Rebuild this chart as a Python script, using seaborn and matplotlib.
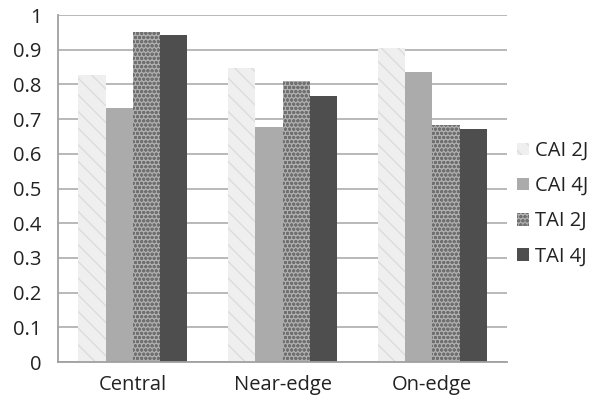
import matplotlib
matplotlib.use("Agg")
import matplotlib.pyplot as plt
import seaborn as sns
import pandas as pd
from matplotlib.patches import Patch

categories = ["Central", "Near-edge", "On-edge"]
series = ["CAI 2J", "CAI 4J", "TAI 2J", "TAI 4J"]
cai_2j = [0.827, 0.847, 0.905]
cai_4j = [0.732, 0.677, 0.836]
tai_2j = [0.951, 0.810, 0.683]
tai_4j = [0.942, 0.767, 0.671]
y_ticks = [0, 0.1, 0.2, 0.3, 0.4, 0.5, 0.6, 0.7, 0.8, 0.9, 1]
y_tick_labels = ["0", "0.1", "0.2", "0.3", "0.4", "0.5", "0.6", "0.7", "0.8", "0.9", "1"]

values = [cai_2j, cai_4j, tai_2j, tai_4j]
df = pd.DataFrame(
    [(c, s, v[i]) for s, v in zip(series, values) for i, c in enumerate(categories)],
    columns=["category", "series", "value"],
)

sns.set_theme(style="white")
plt.rcParams["font.family"] = ["Open Sans", "DejaVu Sans"]
plt.rcParams["hatch.linewidth"] = 1.0

# fill styles per series: face colour, hatch pattern, hatch colour
styles = {
    "CAI 2J": ("#efefef", "\\\\", "#dcdcdc"),
    "CAI 4J": ("#ababab", "", "#ababab"),
    "TAI 2J": ("#b0b0b0", "oooo", "#707070"),
    "TAI 4J": ("#4e4e4e", "", "#4e4e4e"),
}

fig = plt.figure(figsize=(5.98, 3.97), dpi=100)
ax = fig.add_axes([0.097, 0.088, 0.751, 0.874])

sns.barplot(data=df, x="category", y="value", hue="series", order=categories,
            hue_order=series, width=0.73, gap=0, ax=ax, legend=False,
            palette=[styles[s][0] for s in series], saturation=1)

for name, cont in zip(series, ax.containers):
    fc, hatch, hc = styles[name]
    for bar in cont:
        bar.set_facecolor(fc)
        bar.set_hatch(hatch)
        bar.set_edgecolor(hc)
        bar.set_linewidth(0)

ax.set_ylim(0, 1)
ax.set_xlim(-0.5, 2.5)
ax.set_yticks(y_ticks)
ax.set_yticklabels(y_tick_labels)
ax.yaxis.grid(True, color="#b3b3b3", linewidth=1.3)
ax.set_axisbelow(True)
ax.set_xlabel("")
ax.set_ylabel("")

ax.set_xticks([0, 1, 2])
ax.set_xticklabels(categories)
ax.set_xticks([-0.5, 0.5, 1.5, 2.5], minor=True)
ax.tick_params(axis="x", which="major", length=0, labelsize=14.5, pad=9, colors="#222222")
ax.tick_params(axis="x", which="minor", length=6, width=1.2, color="#a0a0a0", direction="out")
ax.tick_params(axis="y", length=7, width=1.2, color="#a0a0a0", direction="out",
               labelsize=14.5, pad=5, labelcolor="#222222")

for side in ["top", "right"]:
    ax.spines[side].set_visible(False)
for side in ["left", "bottom"]:
    ax.spines[side].set_color("#a0a0a0")
    ax.spines[side].set_linewidth(1.3)

handles = []
for s in series:
    fc, hatch, hc = styles[s]
    handles.append(Patch(facecolor=fc, hatch=hatch, edgecolor=hc, linewidth=0, label=s))
fig.legend(handles=handles, loc="center left", bbox_to_anchor=(0.865, 0.487),
           frameon=False, fontsize=14.5, handlelength=0.6, handleheight=0.6,
           handletextpad=0.3, labelspacing=0.75, labelcolor="#222222",
           borderaxespad=0, borderpad=0)

fig.savefig("out.png", dpi=100)
